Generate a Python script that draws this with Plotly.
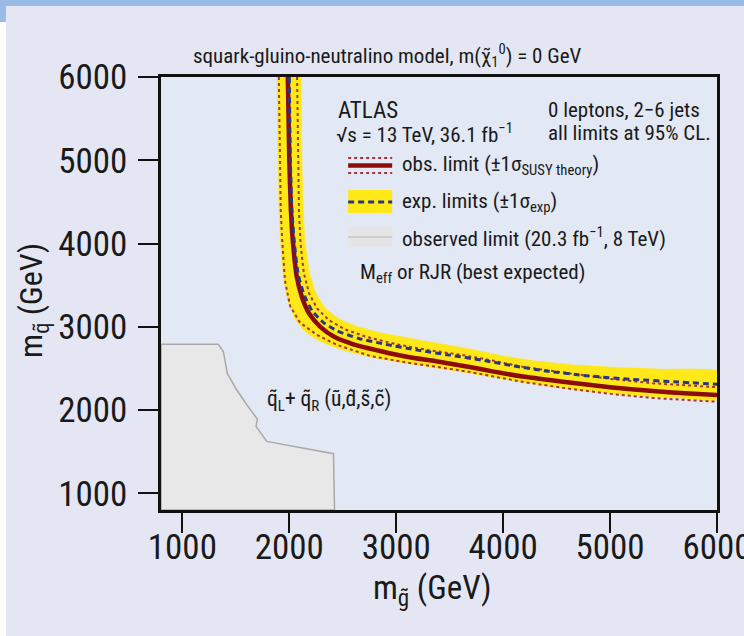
import plotly.graph_objects as go

# ---------------- data (GeV) ----------------
obs_x = [1986, 2000, 2015, 2035, 2070, 2120, 2190, 2290, 2420, 2600, 2850, 3100, 3400, 3700, 3900, 4200, 4600, 5000, 5400, 5700, 6000]
obs_y = [6000, 5000, 4400, 4000, 3600, 3350, 3150, 3000, 2880, 2790, 2710, 2640, 2580, 2515, 2465, 2400, 2335, 2275, 2228, 2202, 2182]

obs_lo_x = [1902, 1910, 1920, 1935, 1960, 2007, 2100, 2257, 2444, 2756, 3100, 3400, 3700, 3900, 4200, 4600, 5000, 5400, 5700, 6000]
obs_lo_y = [6000, 5000, 4400, 4000, 3550, 3250, 3050, 2904, 2784, 2650, 2570, 2515, 2455, 2405, 2335, 2260, 2195, 2145, 2118, 2100]

obs_hi_x = [2073, 2080, 2090, 2105, 2135, 2185, 2260, 2370, 2520, 2720, 3000, 3300, 3600, 3900, 4200, 4600, 5000, 5400, 5700, 6000]
obs_hi_y = [6000, 5000, 4400, 4000, 3650, 3400, 3220, 3080, 2970, 2880, 2790, 2720, 2665, 2595, 2515, 2445, 2375, 2322, 2296, 2275]

exp_x = [2000, 2010, 2025, 2048, 2085, 2140, 2215, 2320, 2450, 2650, 2900, 3200, 3500, 3800, 4100, 4400, 4800, 5200, 5600, 6000]
exp_y = [6000, 5000, 4400, 4000, 3620, 3380, 3190, 3050, 2950, 2860, 2790, 2720, 2660, 2600, 2530, 2470, 2410, 2370, 2340, 2310]

band_lo_x = [1886, 1895, 1905, 1920, 1945, 1990, 2060, 2160, 2300, 2500, 2750, 3050, 3350, 3650, 3900, 4200, 4600, 5000, 5400, 5700, 6000]
band_lo_y = [6000, 5000, 4400, 4000, 3600, 3300, 3080, 2930, 2820, 2720, 2640, 2570, 2510, 2450, 2395, 2330, 2255, 2200, 2160, 2140, 2120]
band_hi_x = [2110, 2118, 2130, 2150, 2190, 2250, 2340, 2460, 2620, 2850, 3100, 3400, 3700, 4000, 4300, 4700, 5100, 5500, 6000]
band_hi_y = [6000, 5000, 4400, 4000, 3650, 3400, 3220, 3100, 3010, 2930, 2870, 2800, 2730, 2650, 2590, 2540, 2510, 2490, 2470]

run1_x = [800, 800, 1336, 1383, 1420, 1508, 1602, 1680, 1701, 1689, 1789, 2413, 2423, 800]
run1_y = [800, 2790, 2790, 2704, 2440, 2244, 2064, 1916, 1892, 1804, 1624, 1476, 800, 800]

tick_vals = [1000, 2000, 3000, 4000, 5000, 6000]
tick_text = ["1000", "2000", "3000", "4000", "5000", "6000"]

# ---------------- styling ----------------
FONT = "Roboto Condensed, Liberation Sans Narrow, sans-serif"
W, H = 744, 636
L, R, T, B = 161, 716.6, 77, 510
PAGE_BG = "#e4e7f3"
PLOT_BG = "#e2e8f4"
RED = "#8c0c0c"
DOT = "#a8343c"
NAVY = "#2a3680"
YELLOW = "#ffe817"
TXT = "#1a1a1a"


def px(x):
    return (x - L) / (R - L)


def py(y):
    return (B - y) / (B - T)


fig = go.Figure()

fig.add_trace(go.Scatter(x=run1_x, y=run1_y, mode="lines", fill="toself",
                         fillcolor="#e8e8e8", line=dict(color="#a9a9a9", width=1.5),
                         hoverinfo="skip", showlegend=False))

fig.add_trace(go.Scatter(x=band_lo_x + band_hi_x[::-1], y=band_lo_y + band_hi_y[::-1],
                         mode="lines", fill="toself", fillcolor=YELLOW,
                         line=dict(color=YELLOW, width=0.5, shape="spline", smoothing=0.4),
                         hoverinfo="skip", showlegend=False))

fig.add_trace(go.Scatter(x=obs_lo_x, y=obs_lo_y, mode="lines",
                         line=dict(color=DOT, width=2, dash="dot"), showlegend=False))
fig.add_trace(go.Scatter(x=obs_hi_x, y=obs_hi_y, mode="lines",
                         line=dict(color=DOT, width=2, dash="dot"), showlegend=False))
fig.add_trace(go.Scatter(x=obs_x, y=obs_y, mode="lines",
                         line=dict(color=RED, width=4.5, shape="spline", smoothing=0.6), showlegend=False))
fig.add_trace(go.Scatter(x=exp_x, y=exp_y, mode="lines",
                         line=dict(color=NAVY, width=3, dash="6px,4px", shape="spline", smoothing=0.6),
                         showlegend=False))

shapes = []
# page decoration: blue top bar and white left strip
shapes.append(dict(type="rect", xref="paper", yref="paper", x0=px(0), x1=px(W), y0=py(0), y1=py(6),
                   fillcolor="#98bae4", line=dict(width=0), layer="below"))
shapes.append(dict(type="rect", xref="paper", yref="paper", x0=px(0), x1=px(6), y0=py(0), y1=py(22),
                   fillcolor="#98bae4", line=dict(width=0), layer="below"))
shapes.append(dict(type="rect", xref="paper", yref="paper", x0=px(0), x1=px(6), y0=py(22), y1=py(H),
                   fillcolor="#ffffff", line=dict(width=0), layer="below"))

# legend samples
lx0, lx1 = px(348), px(392)
shapes.append(dict(type="line", xref="paper", yref="paper", x0=lx0, x1=lx1, y0=py(158), y1=py(158),
                   line=dict(color=DOT, width=2, dash="dot")))
shapes.append(dict(type="line", xref="paper", yref="paper", x0=lx0, x1=lx1, y0=py(173), y1=py(173),
                   line=dict(color=DOT, width=2, dash="dot")))
shapes.append(dict(type="line", xref="paper", yref="paper", x0=lx0, x1=lx1, y0=py(165.5), y1=py(165.5),
                   line=dict(color=RED, width=4.5)))
shapes.append(dict(type="rect", xref="paper", yref="paper", x0=lx0, x1=lx1, y0=py(213), y1=py(190),
                   fillcolor=YELLOW, line=dict(width=0)))
shapes.append(dict(type="line", xref="paper", yref="paper", x0=lx0, x1=lx1, y0=py(202), y1=py(202),
                   line=dict(color=NAVY, width=3, dash="6px,4px")))
shapes.append(dict(type="rect", xref="paper", yref="paper", x0=lx0, x1=lx1, y0=py(247), y1=py(227),
                   fillcolor="#e5e5e5", line=dict(width=0)))
shapes.append(dict(type="line", xref="paper", yref="paper", x0=lx0, x1=lx1, y0=py(237), y1=py(237),
                   line=dict(color="#c4c4c4", width=1.5)))

ann = []


def text(x, y, s, size=19, anchor="left", angle=0):
    ann.append(dict(x=px(x), y=py(y), xref="paper", yref="paper", text=s, showarrow=False,
                    xanchor=anchor, yanchor="middle", textangle=angle,
                    font=dict(family=FONT, size=size, color=TXT)))


text(387, 55, "squark-gluino-neutralino model, m(χ̃<sub>1</sub><sup>0</sup>) = 0 GeV", 21, "center")
text(336, 110, "ATLAS", 23)
text(334, 133, "√s = 13 TeV, 36.1 fb<sup>−1</sup>", 21)
text(546, 110, "0 leptons, 2−6 jets", 21)
text(546, 133, "all limits at 95% CL.", 21)
text(400, 165, "obs. limit (±1σ<sub>SUSY theory</sub>)", 21)
text(400, 202, "exp. limits (±1σ<sub>exp</sub>)", 21)
text(400, 237, "observed limit (20.3 fb<sup>−1</sup>, 8 TeV)", 21)
text(358, 273, "M<sub>eff</sub> or RJR (best expected)", 21)
text(329, 400, "q̃<sub>L</sub>+ q̃<sub>R</sub> (ũ,d̃,s̃,c̃)", 21.5, "center")
text(432, 590, "m<sub>g̃</sub> (GeV)", 33, "center")
text(33, 300, "m<sub>q̃</sub> (GeV)", 32, "center", -90)

axis_common = dict(showline=True, linecolor="#111111", linewidth=2.5, mirror=True,
                   ticks="outside", ticklen=20, tickwidth=2, tickcolor="#111111",
                   showgrid=False, zeroline=False, tickvals=tick_vals, ticktext=tick_text,
                   automargin=False, tickfont=dict(family=FONT, size=35, color=TXT))

fig.update_layout(
    width=W, height=H,
    margin=dict(l=L, r=W - R, t=T, b=H - B, pad=0, autoexpand=False),
    paper_bgcolor=PAGE_BG, plot_bgcolor=PLOT_BG,
    xaxis=dict(range=[800, 6000], ticklabelstandoff=-16, ticklabeloverflow="allow", **axis_common),
    yaxis=dict(range=[800, 6000], ticklabelstandoff=4, **axis_common),
    shapes=shapes, annotations=ann, showlegend=False,
)

fig.write_html("out.html")
